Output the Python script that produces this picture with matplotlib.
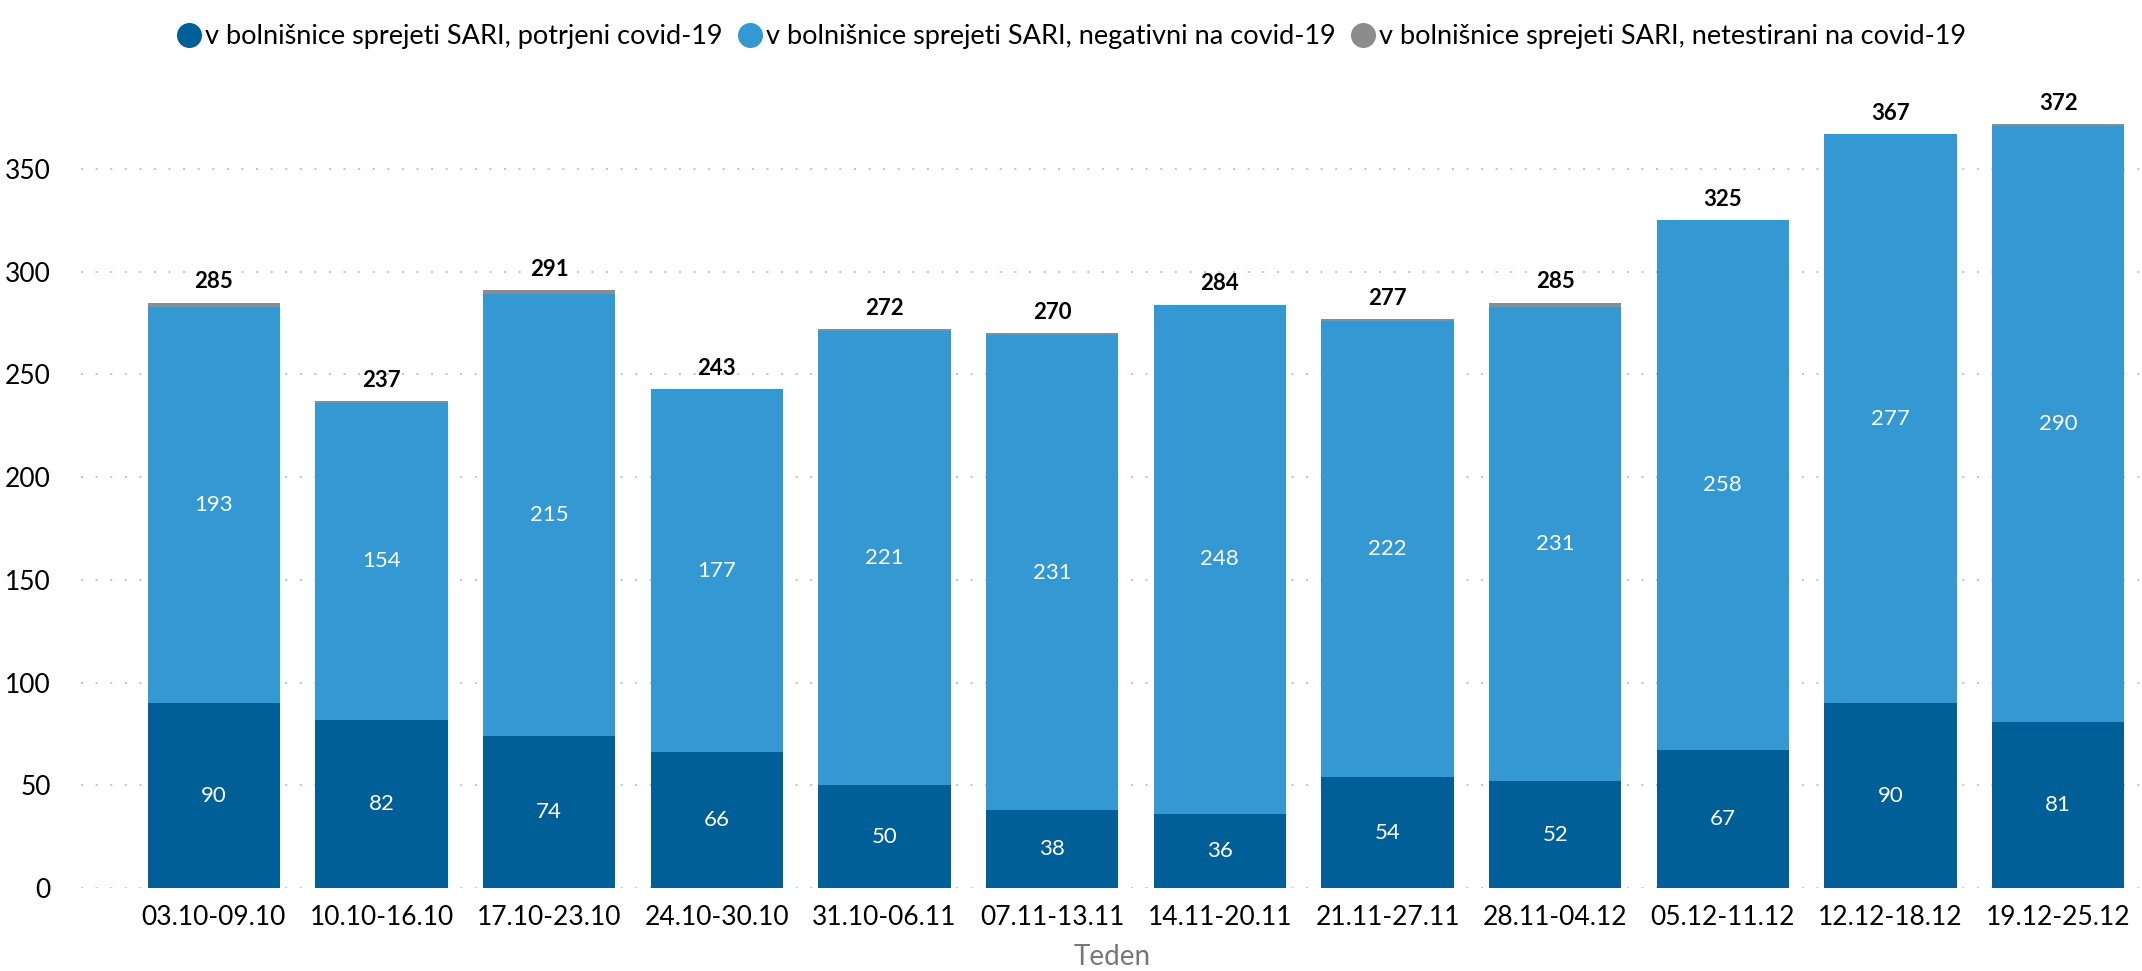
import numpy as np
import matplotlib
matplotlib.use('Agg')
import matplotlib.pyplot as plt
from matplotlib.lines import Line2D

plt.rcParams['font.family'] = ['Lato', 'DejaVu Sans']

weeks = ['03.10-09.10', '10.10-16.10', '17.10-23.10', '24.10-30.10', '31.10-06.11',
         '07.11-13.11', '14.11-20.11', '21.11-27.11', '28.11-04.12', '05.12-11.12',
         '12.12-18.12', '19.12-25.12']
potrjeni = [90, 82, 74, 66, 50, 38, 36, 54, 52, 67, 90, 81]
negativni = [193, 154, 215, 177, 221, 231, 248, 222, 231, 258, 277, 290]
netestirani = [2, 1, 2, 0, 1, 1, 0, 1, 2, 0, 0, 1]
skupaj = [285, 237, 291, 243, 272, 270, 284, 277, 285, 325, 367, 372]

labels = ['v bolnišnice sprejeti SARI, potrjeni covid-19',
          'v bolnišnice sprejeti SARI, negativni na covid-19',
          'v bolnišnice sprejeti SARI, netestirani na covid-19']
colors = ['#005f96', '#3498d3', '#8c8c8c']

fig = plt.figure(figsize=(21.42, 9.71), dpi=100)
ax = fig.add_axes([0.038, 0.0855, 0.962, 0.825])

x = np.arange(len(weeks))
w = 0.79
p1 = np.array(potrjeni)
p2 = np.array(negativni)
p3 = np.array(netestirani)

ax.bar(x, p1, w, color=colors[0], zorder=2)
ax.bar(x, p2, w, bottom=p1, color=colors[1], zorder=2)
ax.bar(x, p3, w, bottom=p1 + p2, color=colors[2], zorder=2)

for i in range(len(weeks)):
    ax.text(x[i], p1[i] / 2, str(p1[i]), ha='center', va='center', color='white', fontsize=16)
    ax.text(x[i], p1[i] + p2[i] / 2, str(p2[i]), ha='center', va='center', color='white', fontsize=16)
    ax.text(x[i], skupaj[i] + 5, str(skupaj[i]), ha='center', va='bottom', color='black',
            fontsize=16, fontweight='bold')

ax.set_xlim(-0.79, 11.5)
ax.set_ylim(0, 390)
ax.set_yticks(range(0, 351, 50))
ax.set_xticks(x)
ax.set_xticklabels(weeks)
ax.tick_params(axis='both', length=0, labelsize=19)
ax.tick_params(axis='x', pad=12)
ax.tick_params(axis='y', pad=22)
ax.yaxis.grid(True, linestyle=(0, (1, 6)), color='#c8c8c8', linewidth=1.5, zorder=0)
ax.set_axisbelow(True)
for s in ax.spines.values():
    s.set_visible(False)
ax.set_xlabel('Teden', fontsize=20, color='#777777', labelpad=10)

handles = [Line2D([], [], marker='o', linestyle='', markersize=17, color=c) for c in colors]
fig.legend(handles, labels, loc='upper center', bbox_to_anchor=(0.5, 1.0), ncol=3,
           frameon=False, fontsize=19.5, handletextpad=0.1, columnspacing=0.5,
           handlelength=1.0)

fig.savefig('out.png', dpi=100)
